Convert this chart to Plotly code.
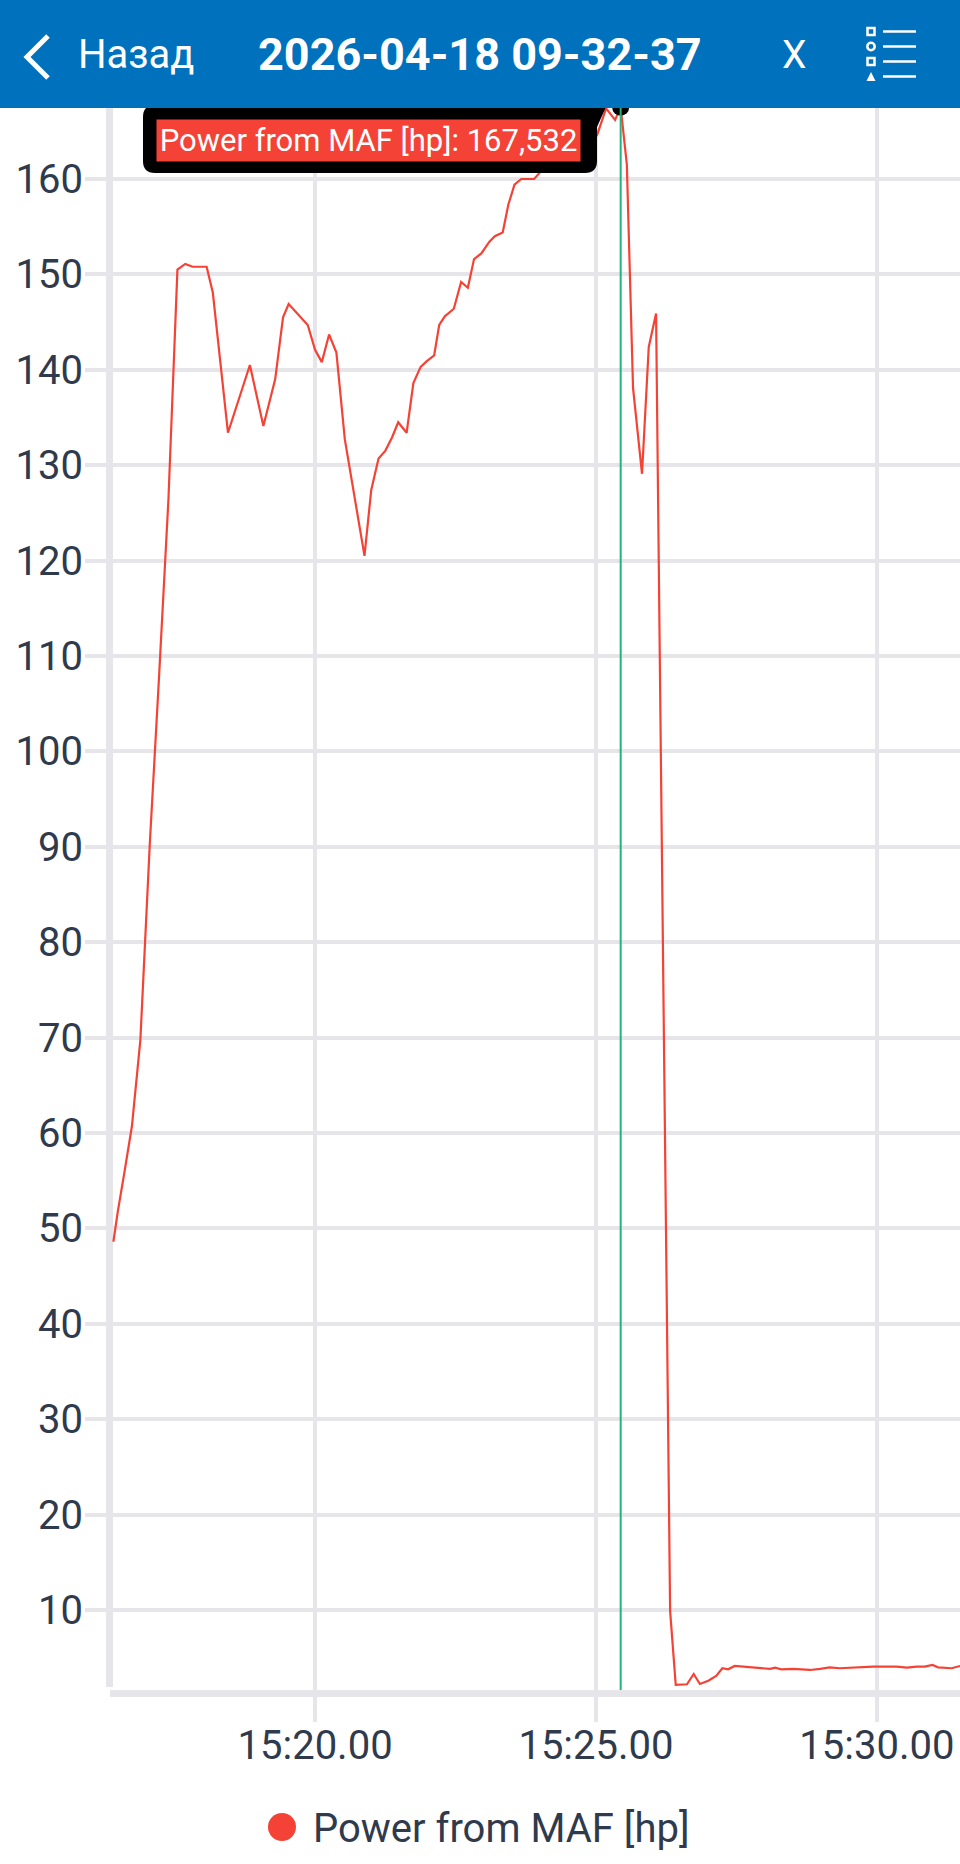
import plotly.graph_objects as go

# ---------------- data ----------------
# time in seconds (mm:ss scale: 920 s -> "15:20.00")
time_s = [916.41, 916.49, 916.61, 916.74, 916.89, 917.06, 917.22, 917.39, 917.55, 917.69,
          917.82, 918.07, 918.18, 918.28, 918.45, 918.84, 919.08, 919.29, 919.43, 919.53,
          919.87, 920.00, 920.12, 920.25, 920.38, 920.53, 920.88, 921.00, 921.13, 921.25,
          921.37, 921.48, 921.63, 921.75, 921.88, 921.99, 922.12, 922.21, 922.31, 922.47,
          922.60, 922.72, 922.83, 922.96, 923.10, 923.20, 923.34, 923.44, 923.55, 923.67,
          923.90, 924.02, 924.15, 924.29, 924.41, 924.54, 924.66, 924.79, 924.91, 925.02,
          925.18, 925.34, 925.44, 925.55, 925.66, 925.82, 925.94, 926.07, 926.32, 926.42,
          926.62, 926.74, 926.85, 927.00, 927.14, 927.25, 927.35, 927.47, 927.62, 927.80,
          927.97, 928.10, 928.19, 928.30, 928.51, 928.81, 928.99, 929.16, 929.34, 929.52,
          929.70, 929.93, 930.17, 930.35, 930.53, 930.71, 930.85, 930.99, 931.09, 931.33,
          931.48]
power_hp = [48.6, 51.8, 56.0, 60.7, 69.7, 90.5, 107.5, 126.4, 150.5, 151.1,
            150.8, 150.8, 148.1, 142.8, 133.4, 140.5, 134.1, 139.0, 145.5, 146.9,
            144.7, 142.1, 140.8, 143.7, 141.8, 132.7, 120.5, 127.4, 130.7, 131.5,
            132.9, 134.5, 133.4, 138.6, 140.3, 140.9, 141.5, 144.7, 145.6, 146.4,
            149.2, 148.6, 151.6, 152.2, 153.4, 154.0, 154.4, 157.3, 159.4, 160.0,
            160.0, 160.8, 161.4, 161.9, 162.3, 162.8, 163.2, 163.6, 164.0, 164.6,
            167.4, 166.2, 167.532, 161.5, 138.1, 129.1, 142.4, 145.9, 9.9, 2.14,
            2.21, 3.29, 2.24, 2.59, 3.08, 3.89, 3.78, 4.13, 4.06, 3.95,
            3.89, 3.82, 3.95, 3.78, 3.82, 3.71, 3.82, 3.99, 3.89, 3.95,
            4.06, 4.06, 4.06, 4.06, 3.95, 4.06, 4.06, 4.23, 3.99, 3.89,
            4.13]
x_tick_vals = [920, 925, 930]
x_tick_labels = ["15:20.00", "15:25.00", "15:30.00"]
y_tick_vals = [10, 20, 30, 40, 50, 60, 70, 80, 90, 100, 110, 120, 130, 140, 150, 160]
y_tick_labels = [str(v) for v in y_tick_vals]
series_name = "Power from MAF [hp]"
cursor_time = 925.44
cursor_value = 167.532
title_text = "2026-04-18 09-32-37"

# ---------------- layout constants ----------------
W, H = 960, 1864
L, R, T, B = 110, 0, 100, 174
PW, PH = W - L - R, H - T - B
RED = "#F44336"
GRID = "#E5E5EA"
TXT = "#2F3A4C"
BLUE = "#0071BC"
FONT = "Roboto"


def px(x):
    return (x - L) / PW


def py(y):
    return (H - B - y) / PH


def P(x, y):
    return f"{px(x):.5f},{py(y):.5f}"


fig = go.Figure()
fig.add_trace(go.Scatter(x=time_s, y=power_hp, mode="lines", name=series_name,
                         line=dict(color=RED, width=2.2), showlegend=False,
                         hoverinfo="skip"))
fig.add_trace(go.Scatter(x=[cursor_time], y=[cursor_value], mode="markers",
                         marker=dict(color="black", size=17), showlegend=False,
                         cliponaxis=False, hoverinfo="skip"))

shapes = []
annotations = []

# y axis line (drawn slightly inside, as in the app)
shapes.append(dict(type="line", xref="paper", yref="paper", x0=px(109.5), x1=px(109.5),
                   y0=py(1687), y1=py(95), line=dict(color=GRID, width=7), layer="below"))

# cursor line
shapes.append(dict(type="line", xref="x", yref="paper", x0=cursor_time, x1=cursor_time,
                   y0=0, y1=1, line=dict(color="#22B47A", width=2), layer="above"))

# tooltip black box (rounded) with pointer
x0, x1, y0, y1, r = 143, 597, 105, 173, 12
tip_path = ("M " + P(x0 + r, y0) + " L " + P(x1 - r, y0) + " L " + P(606, y0 + 2) +
            " L " + P(x1, y0 + 22) + " L " + P(x1, y1 - r) + " Q " + P(x1, y1) + " " + P(x1 - r, y1) +
            " L " + P(x0 + r, y1) + " Q " + P(x0, y1) + " " + P(x0, y1 - r) +
            " L " + P(x0, y0 + r) + " Q " + P(x0, y0) + " " + P(x0 + r, y0) + " Z")
shapes.append(dict(type="path", xref="paper", yref="paper", path=tip_path,
                   fillcolor="black", line=dict(width=0), layer="above"))
annotations.append(dict(xref="paper", yref="paper", x=px(368.5), y=py(140.5),
                        text=f"{series_name}: {str(cursor_value).replace('.', ',')}",
                        showarrow=False, font=dict(family=FONT, size=31, color="white"),
                        bgcolor=RED, width=423, height=41, borderpad=0,
                        xanchor="center", yanchor="middle"))

# header bar
shapes.append(dict(type="rect", xref="paper", yref="paper", x0=px(0), x1=px(W),
                   y0=py(108), y1=py(0), fillcolor=BLUE, line=dict(width=0), layer="above"))
# back chevron
shapes.append(dict(type="path", xref="paper", yref="paper",
                   path="M " + P(48, 36) + " L " + P(27, 57) + " L " + P(48, 78),
                   line=dict(color="white", width=5), layer="above"))
annotations.append(dict(xref="paper", yref="paper", x=px(76), y=py(55), text="Назад",
                        showarrow=False, xanchor="left", yanchor="middle",
                        font=dict(family=FONT, size=40, color="white")))
annotations.append(dict(xref="paper", yref="paper", x=px(480), y=py(55),
                        text="<b>" + title_text + "</b>",
                        showarrow=False, xanchor="center", yanchor="middle",
                        font=dict(family=FONT, size=45, color="white")))
annotations.append(dict(xref="paper", yref="paper", x=px(794), y=py(55), text="X",
                        showarrow=False, xanchor="center", yanchor="middle",
                        font=dict(family=FONT, size=39, color="white")))
# list icon
for yc, kind in [(31.5, "sq"), (46.5, "ci"), (61.5, "sq"), (76.5, "tri")]:
    if kind == "sq":
        shapes.append(dict(type="rect", xref="paper", yref="paper", x0=px(867.5), x1=px(874.5),
                           y0=py(yc + 3.5), y1=py(yc - 3.5), line=dict(color="white", width=2.5),
                           fillcolor=BLUE, layer="above"))
    elif kind == "ci":
        shapes.append(dict(type="circle", xref="paper", yref="paper", x0=px(867.3), x1=px(874.7),
                           y0=py(yc + 3.7), y1=py(yc - 3.7), line=dict(color="white", width=2.5),
                           fillcolor=BLUE, layer="above"))
    else:
        shapes.append(dict(type="path", xref="paper", yref="paper",
                           path="M " + P(866.5, yc + 4.5) + " L " + P(871, yc - 4.5) + " L " + P(875.5, yc + 4.5) + " Z",
                           fillcolor="white", line=dict(width=0), layer="above"))
    shapes.append(dict(type="line", xref="paper", yref="paper", x0=px(883), x1=px(916),
                       y0=py(yc), y1=py(yc), line=dict(color="white", width=2.7), layer="above"))

# legend
shapes.append(dict(type="circle", xref="paper", yref="paper", x0=px(268), x1=px(296),
                   y0=py(1841), y1=py(1813), fillcolor=RED, line=dict(width=0)))
annotations.append(dict(xref="paper", yref="paper", x=px(311), y=py(1828), text=series_name,
                        showarrow=False, xanchor="left", yanchor="middle",
                        font=dict(family=FONT, size=40, color=TXT)))

fig.update_layout(
    width=W, height=H,
    margin=dict(l=L, r=R, t=T, b=B, pad=0),
    paper_bgcolor="white", plot_bgcolor="white",
    showlegend=False,
    shapes=shapes, annotations=annotations,
    xaxis=dict(range=[916.35, 931.48], tickvals=x_tick_vals, ticktext=x_tick_labels,
               showgrid=True, gridcolor=GRID, gridwidth=4,
               ticks="outside", ticklen=25, tickwidth=4, tickcolor=GRID,
               showline=True, linecolor=GRID, linewidth=7,
               zeroline=False, ticklabelstandoff=-11,
               tickfont=dict(family=FONT, size=40, color=TXT)),
    yaxis=dict(range=[1.61, 168.28], tickvals=y_tick_vals, ticktext=y_tick_labels,
               showgrid=True, gridcolor=GRID, gridwidth=4,
               ticks="outside", ticklen=24, tickwidth=4, tickcolor=GRID,
               showline=False,
               zeroline=False, ticklabelstandoff=-6,
               tickfont=dict(family=FONT, size=40, color=TXT)),
)

fig.write_html("out.html", config={"displayModeBar": False},
               post_script="document.body.style.margin='0';")
